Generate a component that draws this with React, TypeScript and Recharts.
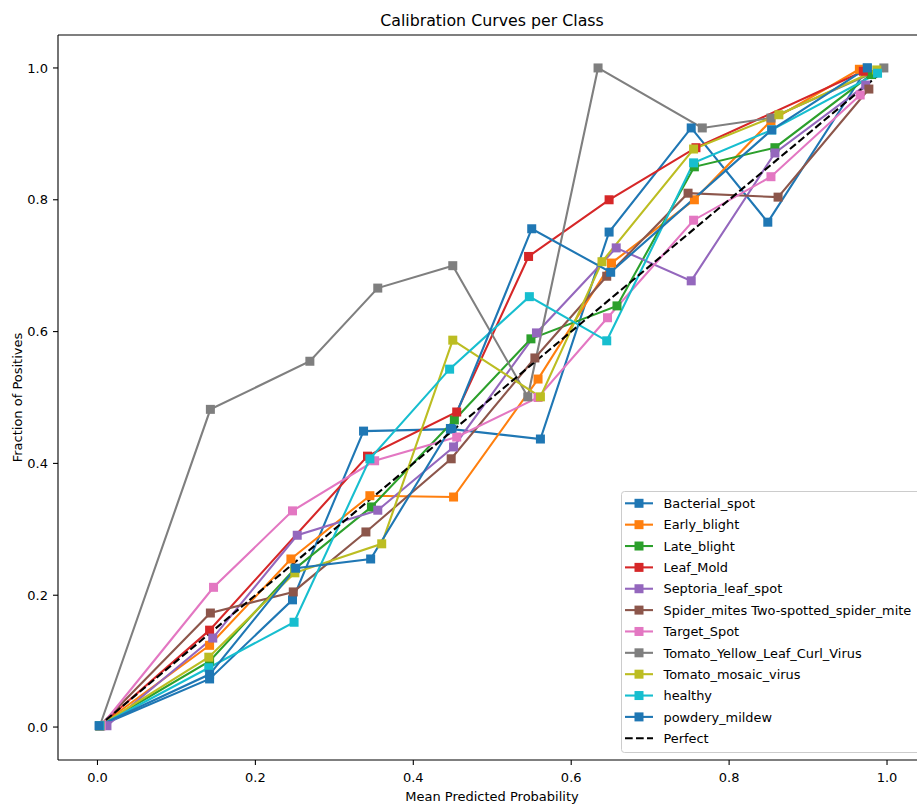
import React from 'react';
import { LineChart, Line, XAxis, YAxis, ReferenceLine } from 'recharts';

const classNames = [
  'Bacterial_spot',
  'Early_blight',
  'Late_blight',
  'Leaf_Mold',
  'Septoria_leaf_spot',
  'Spider_mites Two-spotted_spider_mite',
  'Target_Spot',
  'Tomato_Yellow_Leaf_Curl_Virus',
  'Tomato_mosaic_virus',
  'healthy',
  'powdery_mildew',
];

const colors = ['#1f77b4', '#ff7f0e', '#2ca02c', '#d62728', '#9467bd', '#8c564b', '#e377c2', '#7f7f7f', '#bcbd22', '#17becf', '#1f77b4'];

// mean predicted probability (x) and fraction of positives (y) per class
const bacterialX = [0.003, 0.142, 0.247, 0.337, 0.449, 0.561, 0.648, 0.752, 0.849, 0.975];
const bacterialY = [0.002, 0.073, 0.193, 0.449, 0.452, 0.437, 0.751, 0.909, 0.766, 1.0];
const earlyX = [0.003, 0.142, 0.245, 0.345, 0.451, 0.558, 0.651, 0.756, 0.853, 0.965];
const earlyY = [0.002, 0.124, 0.255, 0.351, 0.349, 0.528, 0.704, 0.8, 0.92, 0.998];
const lateX = [0.003, 0.142, 0.25, 0.347, 0.452, 0.549, 0.658, 0.756, 0.858, 0.98];
const lateY = [0.002, 0.1, 0.24, 0.334, 0.466, 0.589, 0.639, 0.85, 0.879, 0.99];
const moldX = [0.003, 0.142, 0.342, 0.455, 0.546, 0.648, 0.758, 0.97];
const moldY = [0.002, 0.147, 0.411, 0.478, 0.714, 0.8, 0.879, 0.995];
const septoriaX = [0.012, 0.146, 0.253, 0.355, 0.451, 0.556, 0.657, 0.752, 0.858, 0.973];
const septoriaY = [0.002, 0.135, 0.291, 0.329, 0.425, 0.598, 0.727, 0.677, 0.871, 0.974];
const spiderX = [0.003, 0.143, 0.248, 0.34, 0.448, 0.554, 0.645, 0.748, 0.862, 0.977];
const spiderY = [0.002, 0.173, 0.205, 0.296, 0.407, 0.56, 0.684, 0.81, 0.804, 0.968];
const targetX = [0.005, 0.147, 0.247, 0.351, 0.455, 0.558, 0.646, 0.755, 0.853, 0.966];
const targetY = [0.002, 0.212, 0.328, 0.404, 0.44, 0.5, 0.621, 0.769, 0.835, 0.959];
const tylcvX = [0.003, 0.143, 0.269, 0.355, 0.45, 0.545, 0.634, 0.766, 0.853, 0.996];
const tylcvY = [0.002, 0.482, 0.555, 0.666, 0.7, 0.501, 1.0, 0.909, 0.924, 1.0];
const mosaicX = [0.003, 0.141, 0.25, 0.36, 0.45, 0.561, 0.639, 0.755, 0.863, 0.987];
const mosaicY = [0.002, 0.106, 0.234, 0.278, 0.587, 0.501, 0.706, 0.877, 0.929, 0.997];
const healthyX = [0.003, 0.141, 0.249, 0.345, 0.446, 0.547, 0.645, 0.755, 0.854, 0.988];
const healthyY = [0.002, 0.09, 0.159, 0.407, 0.543, 0.653, 0.586, 0.856, 0.906, 0.992];
const powderyX = [0.002, 0.142, 0.251, 0.346, 0.447, 0.55, 0.65, 0.854, 0.975];
const powderyY = [0.002, 0.08, 0.241, 0.255, 0.453, 0.756, 0.69, 0.906, 1.0];

const perfectX = [0, 1];
const perfectY = [0, 1];

const ticks = [0, 0.2, 0.4, 0.6, 0.8, 1.0];

const seriesXY: [number[], number[]][] = [
  [bacterialX, bacterialY],
  [earlyX, earlyY],
  [lateX, lateY],
  [moldX, moldY],
  [septoriaX, septoriaY],
  [spiderX, spiderY],
  [targetX, targetY],
  [tylcvX, tylcvY],
  [mosaicX, mosaicY],
  [healthyX, healthyY],
  [powderyX, powderyY],
];

const zip = (xs: number[], ys: number[]) => xs.map((x, i) => ({ x, y: ys[i] }));

const FONT = 'DejaVu Sans';
const MS = 9;

const makeDot = (color: string) => (props: any) => {
  const { cx, cy, index } = props;
  if (cx == null || cy == null) return <g key={`d-${index}`} />;
  return <rect key={`d-${index}`} x={cx - MS / 2} y={cy - MS / 2} width={MS} height={MS} fill={color} />;
};

export default function App() {
  const tickStyle = { fontSize: 13, fill: '#000', fontFamily: FONT };
  const legendTop = 503.3;
  const legendStep = 21.36;
  return (
    <div style={{ position: 'absolute', left: 0, top: 0, width: 917, height: 804, overflow: 'hidden', background: '#fff' }}>
      <LineChart width={940} height={804} margin={{ top: 35, right: 13.5, left: 8, bottom: 4 }}>
        <XAxis
          dataKey="x"
          type="number"
          domain={[-0.05, 1.05]}
          ticks={ticks}
          tickFormatter={(v: number) => v.toFixed(1)}
          allowDataOverflow
          height={40}
          tickSize={5}
          tickMargin={7.5}
          tick={tickStyle}
          stroke="#000"
          axisLine={{ stroke: '#000', strokeWidth: 1.1 }}
          tickLine={{ stroke: '#000', strokeWidth: 1.1 }}
        />
        <YAxis
          dataKey="y"
          type="number"
          domain={[-0.05, 1.05]}
          ticks={ticks}
          tickFormatter={(v: number) => v.toFixed(1)}
          allowDataOverflow
          width={50}
          tickSize={5}
          tickMargin={5}
          tick={tickStyle}
          stroke="#000"
          axisLine={{ stroke: '#000', strokeWidth: 1.1 }}
          tickLine={{ stroke: '#000', strokeWidth: 1.1 }}
        />
        <ReferenceLine y={1.05} stroke="#000" strokeWidth={1.1} ifOverflow="visible" />
        <ReferenceLine x={1.05} stroke="#000" strokeWidth={1.1} ifOverflow="visible" />
        {seriesXY.map(([xs, ys], i) => (
          <Line
            key={classNames[i]}
            data={zip(xs, ys)}
            dataKey="y"
            name={classNames[i]}
            stroke={colors[i]}
            strokeWidth={2.1}
            dot={makeDot(colors[i])}
            activeDot={false}
            isAnimationActive={false}
            type="linear"
          />
        ))}
        <Line
          data={zip(perfectX, perfectY)}
          dataKey="y"
          name="Perfect"
          stroke="#000"
          strokeWidth={2.1}
          strokeDasharray="7.7 3.3"
          dot={false}
          activeDot={false}
          isAnimationActive={false}
          type="linear"
        />
      </LineChart>
      <svg width={917} height={804} style={{ position: 'absolute', left: 0, top: 0, pointerEvents: 'none' }}>
        <text x={492} y={25.5} textAnchor="middle" fontFamily={FONT} fontSize={15.8} fill="#000">
          Calibration Curves per Class
        </text>
        <text x={492} y={800.5} textAnchor="middle" fontFamily={FONT} fontSize={13} fill="#000">
          Mean Predicted Probability
        </text>
        <text x={22} y={397.5} transform="rotate(-90, 22, 397.5)" textAnchor="middle" fontFamily={FONT} fontSize={13} fill="#000">
          Fraction of Positives
        </text>
        <rect x={621.5} y={491.5} width={400} height={261} rx={3} fill="#fff" fillOpacity={0.8} stroke="#cccccc" strokeWidth={1} />
        {[...classNames, 'Perfect'].map((name, i) => {
          const cy = legendTop + i * legendStep;
          const isPerfect = i === classNames.length;
          const c = isPerfect ? '#000' : colors[i];
          return (
            <g key={name}>
              <line x1={625} y1={cy} x2={653} y2={cy} stroke={c} strokeWidth={2.1} strokeDasharray={isPerfect ? '7.7 3.3' : undefined} />
              {!isPerfect && <rect x={639 - MS / 2} y={cy - MS / 2} width={MS} height={MS} fill={c} />}
              <text x={663.5} y={cy + 4.7} fontFamily={FONT} fontSize={12.9} fill="#000">
                {name}
              </text>
            </g>
          );
        })}
      </svg>
    </div>
  );
}
